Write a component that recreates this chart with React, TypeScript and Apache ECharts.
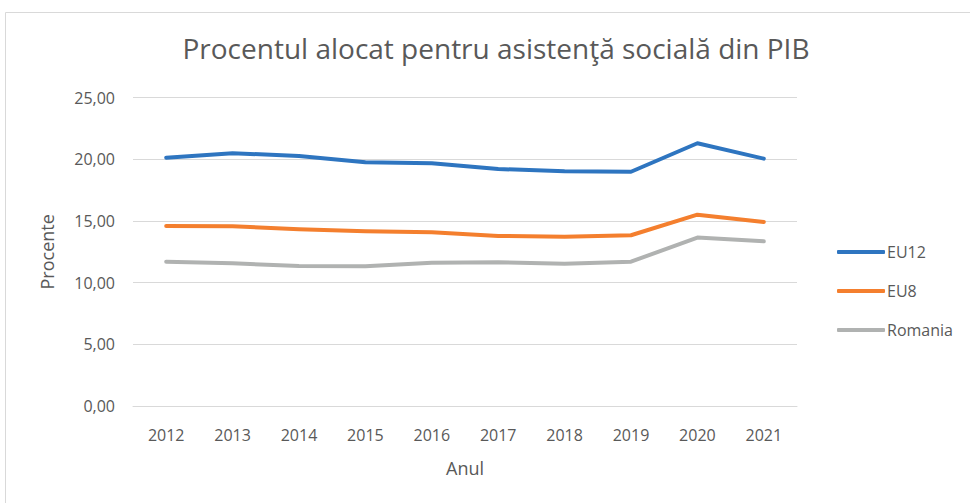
import React, { useEffect, useRef } from "react";
import * as echarts from "echarts";

const years = ["2012", "2013", "2014", "2015", "2016", "2017", "2018", "2019", "2020", "2021"];
const eu12 = [20.13, 20.49, 20.27, 19.76, 19.68, 19.21, 19.03, 18.99, 21.3, 20.05];
const eu8 = [14.6, 14.57, 14.33, 14.16, 14.08, 13.78, 13.73, 13.84, 15.51, 14.92];
const romania = [11.7, 11.57, 11.35, 11.33, 11.62, 11.65, 11.54, 11.7, 13.65, 13.35];

const FONT = "'Open Sans', 'Noto Sans', sans-serif";
const TXT = "#595959";

export default function App() {
  const ref = useRef<HTMLDivElement>(null);
  useEffect(() => {
    document.body.style.margin = "0";
    const chart = echarts.init(ref.current!, undefined, { renderer: "svg" });
    const mk = (name: string, data: number[], color: string) => ({
      name,
      type: "line",
      data,
      symbol: "none",
      smooth: false,
      lineStyle: { width: 4, color, cap: "round", join: "round" },
      itemStyle: { color },
    });
    chart.setOption({
      animation: false,
      backgroundColor: "#ffffff",
      textStyle: { fontFamily: FONT },
      graphic: [
        {
          type: "rect",
          shape: { x: 5.5, y: 12.5, width: 1200, height: 1200 },
          style: { fill: "none", stroke: "#d9d9d9", lineWidth: 1 },
          silent: true,
        },
      ],
      title: {
        text: "Procentul alocat pentru asistenţă socială din PIB",
        left: 491,
        textAlign: "center",
        top: 29,
        textStyle: { fontFamily: FONT, fontSize: 28, fontWeight: "normal", color: TXT },
      },
      legend: {
        orient: "vertical",
        left: 832,
        top: 239,
        itemWidth: 48,
        itemHeight: 4,
        itemGap: 23,
        icon: "roundRect",
        textStyle: { fontFamily: FONT, fontSize: 16, color: TXT, padding: [0, 0, 0, -3] },
        data: ["EU12", "EU8", "Romania"],
      },
      grid: { left: 133, right: 173, top: 97.6, bottom: 97, containLabel: false },
      xAxis: {
        type: "category",
        data: years,
        boundaryGap: true,
        name: "Anul",
        nameLocation: "middle",
        nameGap: 53,
        nameTextStyle: { fontFamily: FONT, fontSize: 18, color: TXT },
        axisLine: { show: true, lineStyle: { color: "#d9d9d9", width: 1 } },
        axisTick: { show: false },
        axisLabel: { fontFamily: FONT, fontSize: 16, color: TXT, margin: 21 },
        splitLine: { show: false },
      },
      yAxis: {
        type: "value",
        min: 0,
        max: 25,
        interval: 5,
        name: "Procente",
        nameLocation: "middle",
        nameGap: 77,
        nameTextStyle: { fontFamily: FONT, fontSize: 18, color: TXT },
        axisLine: { show: false },
        axisTick: { show: false },
        axisLabel: {
          fontFamily: FONT,
          fontSize: 16,
          color: TXT,
          margin: 18,
          formatter: (v: number) => v.toFixed(2).replace(".", ","),
        },
        splitLine: { lineStyle: { color: "#d9d9d9", width: 1 } },
      },
      series: [
        mk("EU12", eu12, "#2E75C0"),
        mk("EU8", eu8, "#F47F2E"),
        mk("Romania", romania, "#B0B2B1"),
      ],
    });
    return () => chart.dispose();
  }, []);
  return <div ref={ref} style={{ width: 970, height: 503, position: "absolute", left: 0, top: 0 }} />;
}
